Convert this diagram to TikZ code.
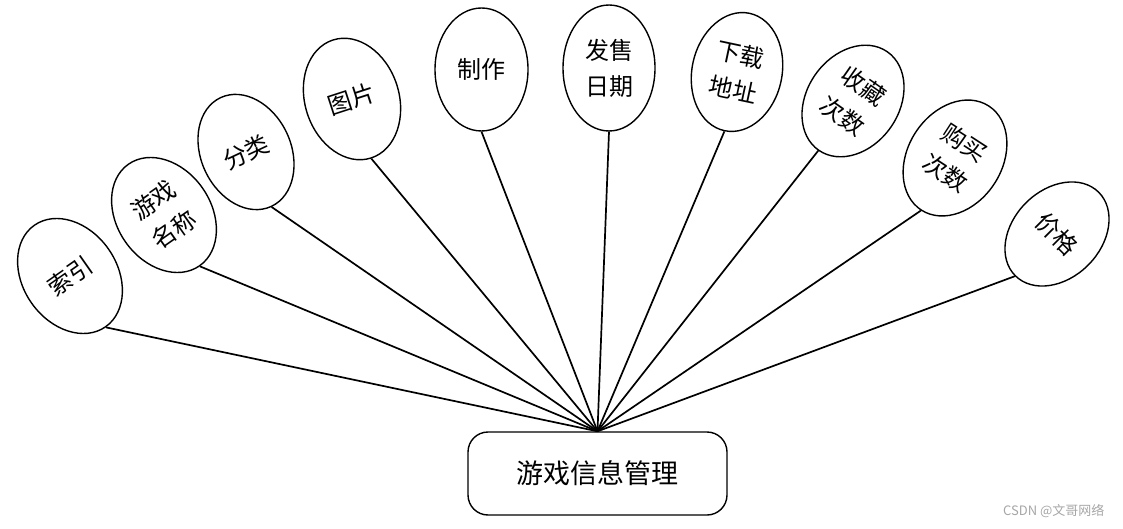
\documentclass[tikz,border=0pt]{standalone}
\usepackage{fontspec}
\newfontfamily\cjk{Noto Sans CJK SC}
\usetikzlibrary{shapes.geometric}
\begin{document}
\begin{tikzpicture}[x=1pt,y=-1pt,
  attr/.style={draw=black,line width=1.4pt,ellipse,inner sep=0pt,minimum width=94pt,minimum height=124pt,align=center,font=\cjk\fontsize{24}{36}\selectfont},
  link/.style={line width=1.7pt},
  mainbox/.style={draw=black,line width=1.4pt,rounded corners=20pt,minimum width=259pt,minimum height=83pt,inner sep=0pt,font=\cjk\fontsize{27}{30}\selectfont}]
\useasboundingbox (0,0) rectangle (1123,529);
\node[mainbox] (main) at (597.5,473.5) {游戏信息管理};
\node[attr,rotate=35] (a1) at (70,276) {索引};
\node[attr,rotate=35] (a2) at (164,215) {游戏\\名称};
\node[attr,rotate=25,minimum width=90pt,minimum height=120pt] (a3) at (246,152) {分类};
\node[attr,rotate=18] (a4) at (352,99) {图片};
\node[attr,minimum width=93pt,minimum height=123pt] (a5) at (481.5,69.5) {制作};
\node[attr,minimum width=92pt,minimum height=126pt] (a6) at (609,68) {发售\\日期};
\node[attr,rotate=-12,minimum width=90pt,minimum height=120pt] (a7) at (737,72) {下载\\地址};
\node[attr,rotate=-35,minimum width=92pt,minimum height=120pt] (a8) at (853,101) {收藏\\次数};
\node[attr,rotate=-33] (a9) at (955,158) {购买\\次数};
\node[attr,rotate=-45,minimum width=88pt,minimum height=118pt] (a10) at (1057,234) {价格};
\foreach \i in {1,...,10} \draw[link] (a\i.south) -- (main.north);
\node[text=gray!70,font=\cjk\fontsize{13}{15}\selectfont,anchor=east] (wm) at (1108,511) {CSDN @文哥网络};
\end{tikzpicture}
\end{document}
